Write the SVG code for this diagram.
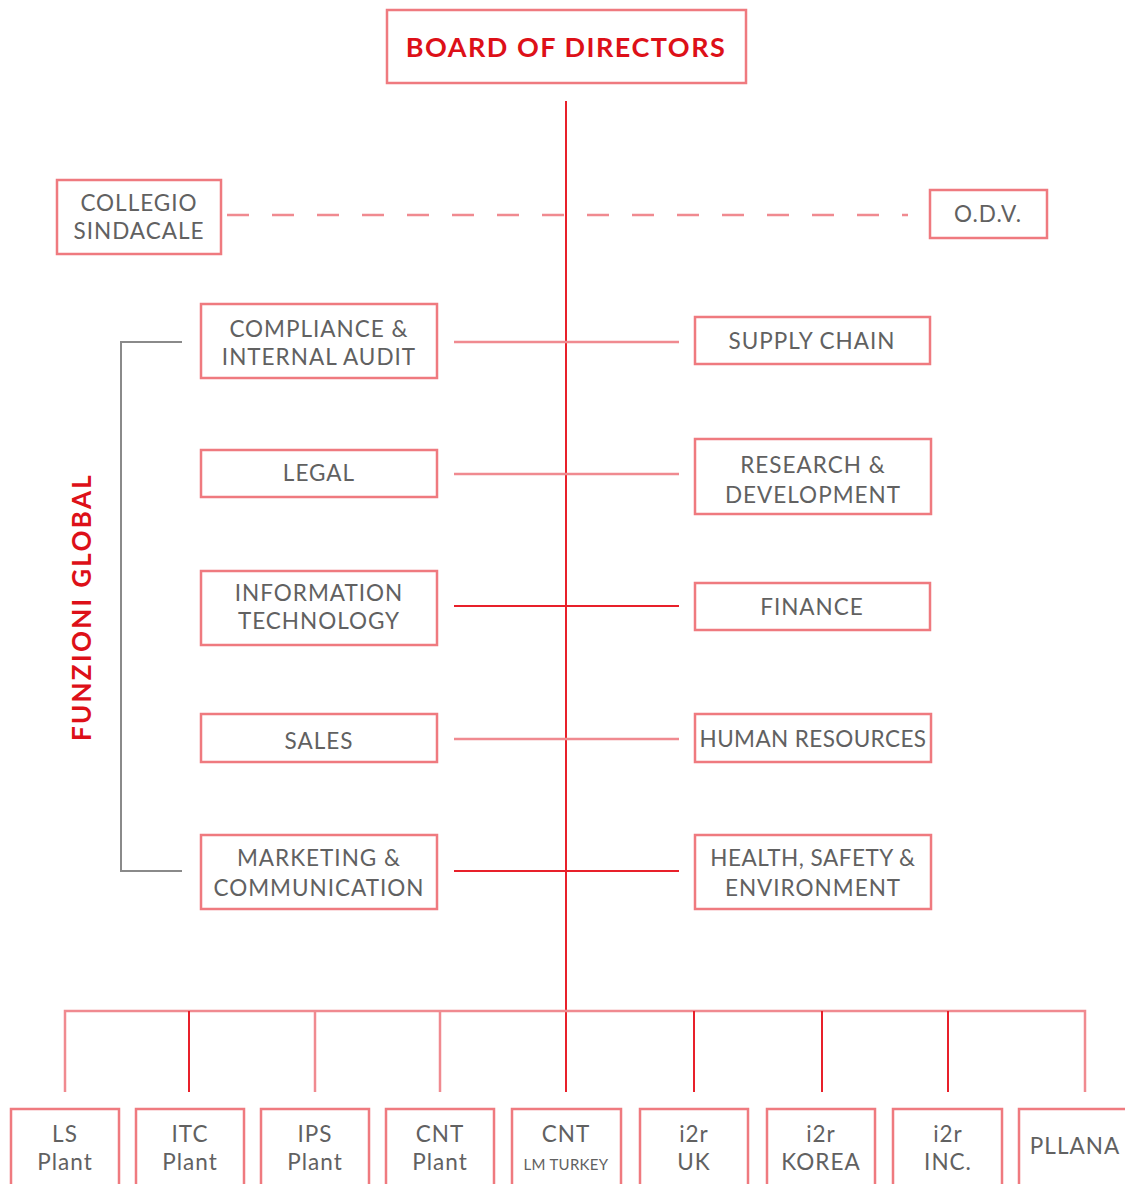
<svg xmlns="http://www.w3.org/2000/svg" width="1125" height="1184" viewBox="0 0 1125 1184">
<style>
.box{fill:#fff;stroke:#ef7a7f;stroke-width:2.5}
.t{font-family:Lato,"Liberation Sans",sans-serif;font-size:22.5px;fill:#616161;text-anchor:middle;letter-spacing:1px}
.red{stroke:#e8202a;stroke-width:2;fill:none}
.pink{stroke:#f08a90;stroke-width:2.5;fill:none}
.gray{stroke:#8a8a8a;stroke-width:2;fill:none}
.title{font-family:Lato,"Liberation Sans",sans-serif;font-weight:bold;font-size:27px;fill:#dd1018;text-anchor:middle;letter-spacing:1.5px}
</style>
<rect width="1125" height="1184" fill="#fff"/>
<g id="connectors">
<line class="red" x1="566" y1="101" x2="566" y2="1092"/>
<line class="pink" x1="227" y1="215" x2="908" y2="215" stroke-dasharray="22,23"/>
<line class="pink" x1="454" y1="342" x2="679" y2="342"/>
<line class="pink" x1="454" y1="474" x2="679" y2="474"/>
<line class="red" x1="454" y1="606" x2="679" y2="606"/>
<line class="pink" x1="454" y1="739" x2="679" y2="739"/>
<line class="red" x1="454" y1="871" x2="679" y2="871"/>
<polyline class="gray" points="182,342 121,342 121,871 182,871"/>
<polyline class="pink" points="65,1092 65,1011 1085,1011 1085,1092"/>
<line class="red" x1="189" y1="1011" x2="189" y2="1092"/>
<line class="pink" x1="315" y1="1011" x2="315" y2="1092"/>
<line class="pink" x1="440" y1="1011" x2="440" y2="1092"/>
<line class="red" x1="694" y1="1011" x2="694" y2="1092"/>
<line class="red" x1="822" y1="1011" x2="822" y2="1092"/>
<line class="red" x1="948" y1="1011" x2="948" y2="1092"/>
</g>
<g id="board"><rect class="box" x="387" y="10" width="359" height="73"/><text class="title" x="566" y="57">BOARD OF DIRECTORS</text></g>
<g id="collegio"><rect class="box" x="57" y="180" width="164" height="74"/><text class="t" x="139" y="211">COLLEGIO</text><text class="t" x="139" y="239">SINDACALE</text></g>
<g id="odv"><rect class="box" x="930" y="190" width="117" height="48"/><text class="t" x="988" y="222">O.D.V.</text></g>
<g id="compliance"><rect class="box" x="201" y="304" width="236" height="74"/><text class="t" x="319" y="337">COMPLIANCE &amp;</text><text class="t" x="319" y="365">INTERNAL AUDIT</text></g>
<g id="supply"><rect class="box" x="695" y="317" width="235" height="47"/><text class="t" x="812" y="349">SUPPLY CHAIN</text></g>
<g id="legal"><rect class="box" x="201" y="450" width="236" height="47"/><text class="t" x="319" y="481">LEGAL</text></g>
<g id="rnd"><rect class="box" x="695" y="439" width="236" height="75"/><text class="t" x="813" y="473">RESEARCH &amp;</text><text class="t" x="813" y="503">DEVELOPMENT</text></g>
<g id="it"><rect class="box" x="201" y="571" width="236" height="74"/><text class="t" x="319" y="601">INFORMATION</text><text class="t" x="319" y="629">TECHNOLOGY</text></g>
<g id="finance"><rect class="box" x="695" y="583" width="235" height="47"/><text class="t" x="812" y="615">FINANCE</text></g>
<g id="sales"><rect class="box" x="201" y="714" width="236" height="48"/><text class="t" x="319" y="749">SALES</text></g>
<g id="hr"><rect class="box" x="695" y="714" width="236" height="48"/><text class="t" x="813" y="747" style="letter-spacing:0.4px">HUMAN RESOURCES</text></g>
<g id="marketing"><rect class="box" x="201" y="835" width="236" height="74"/><text class="t" x="319" y="866">MARKETING &amp;</text><text class="t" x="319" y="896">COMMUNICATION</text></g>
<g id="hse"><rect class="box" x="695" y="835" width="236" height="74"/><text class="t" x="813" y="866" style="letter-spacing:0.5px">HEALTH, SAFETY &amp;</text><text class="t" x="813" y="896">ENVIRONMENT</text></g>
<g id="funzioni"><text class="title" x="0" y="0" transform="translate(91,607) rotate(-90)" style="font-size:26px;letter-spacing:2.3px">FUNZIONI GLOBAL</text></g>
<g id="ls"><rect class="box" x="11" y="1109" width="108" height="80"/><text class="t" x="65" y="1142">LS</text><text class="t" x="65" y="1170">Plant</text></g>
<g id="itc"><rect class="box" x="136" y="1109" width="108" height="80"/><text class="t" x="190" y="1142">ITC</text><text class="t" x="190" y="1170">Plant</text></g>
<g id="ips"><rect class="box" x="261" y="1109" width="108" height="80"/><text class="t" x="315" y="1142">IPS</text><text class="t" x="315" y="1170">Plant</text></g>
<g id="cnt"><rect class="box" x="386" y="1109" width="108" height="80"/><text class="t" x="440" y="1142">CNT</text><text class="t" x="440" y="1170">Plant</text></g>
<g id="cntlm"><rect class="box" x="512" y="1109" width="109" height="80"/><text class="t" x="566" y="1142">CNT</text><text class="t" x="566" y="1170" style="font-size:15px;letter-spacing:0.3px">LM TURKEY</text></g>
<g id="i2ruk"><rect class="box" x="640" y="1109" width="108" height="80"/><text class="t" x="694" y="1142">i2r</text><text class="t" x="694" y="1170">UK</text></g>
<g id="i2rkorea"><rect class="box" x="767" y="1109" width="108" height="80"/><text class="t" x="821" y="1142">i2r</text><text class="t" x="821" y="1170">KOREA</text></g>
<g id="i2rinc"><rect class="box" x="893" y="1109" width="109" height="80"/><text class="t" x="948" y="1142">i2r</text><text class="t" x="948" y="1170">INC.</text></g>
<g id="pllana"><rect class="box" x="1019" y="1109" width="115" height="80"/><text class="t" x="1075" y="1154">PLLANA</text></g>
</svg>
